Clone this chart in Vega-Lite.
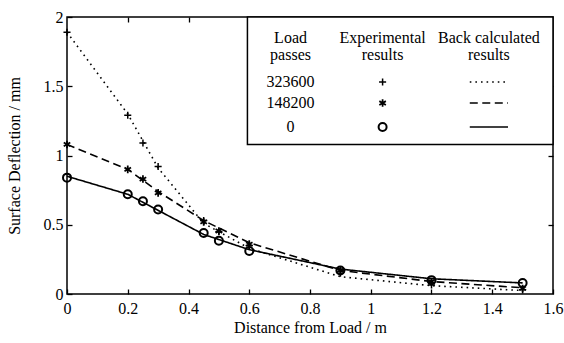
{
  "$schema": "https://vega.github.io/schema/vega-lite/v6.json",
  "width": 486,
  "height": 277,
  "autosize": "none",
  "padding": {"left": 67, "top": 17, "right": 11, "bottom": 49},
  "background": "white",
  "config": {
    "view": {"stroke": "black", "strokeWidth": 1.5},
    "font": "Liberation Serif",
    "axis": {
      "domain": false,
      "grid": false,
      "tickColor": "black",
      "tickWidth": 1.3,
      "tickSize": 5,
      "offset": -5,
      "labelFont": "Liberation Serif",
      "labelFontSize": 16,
      "labelColor": "black",
      "titleFont": "Liberation Serif",
      "titleFontSize": 16,
      "titleFontWeight": "normal",
      "titleColor": "black"
    },
    "text": {"font": "Liberation Serif", "fontSize": 16, "color": "black"}
  },
  "datasets": {
    "calc": [
      {"passes": "323600", "distance": 0, "deflection": 1.89},
      {"passes": "323600", "distance": 0.2, "deflection": 1.3},
      {"passes": "323600", "distance": 0.3, "deflection": 0.91},
      {"passes": "323600", "distance": 0.45, "deflection": 0.51},
      {"passes": "323600", "distance": 0.6, "deflection": 0.33},
      {"passes": "323600", "distance": 0.9, "deflection": 0.125},
      {"passes": "323600", "distance": 1.2, "deflection": 0.06},
      {"passes": "323600", "distance": 1.5, "deflection": 0.025},
      {"passes": "148200", "distance": 0, "deflection": 1.08},
      {"passes": "148200", "distance": 0.2, "deflection": 0.9},
      {"passes": "148200", "distance": 0.3, "deflection": 0.74},
      {"passes": "148200", "distance": 0.45, "deflection": 0.53},
      {"passes": "148200", "distance": 0.6, "deflection": 0.37},
      {"passes": "148200", "distance": 0.9, "deflection": 0.17},
      {"passes": "148200", "distance": 1.2, "deflection": 0.09},
      {"passes": "148200", "distance": 1.5, "deflection": 0.045},
      {"passes": "0", "distance": 0, "deflection": 0.85},
      {"passes": "0", "distance": 0.2, "deflection": 0.72},
      {"passes": "0", "distance": 0.45, "deflection": 0.43},
      {"passes": "0", "distance": 0.6, "deflection": 0.32},
      {"passes": "0", "distance": 0.9, "deflection": 0.18},
      {"passes": "0", "distance": 1.2, "deflection": 0.11},
      {"passes": "0", "distance": 1.5, "deflection": 0.08}
    ],
    "exp": [
      {"passes": "323600", "distance": 0, "deflection": 1.89},
      {"passes": "323600", "distance": 0.2, "deflection": 1.29},
      {"passes": "323600", "distance": 0.25, "deflection": 1.09},
      {"passes": "323600", "distance": 0.3, "deflection": 0.92},
      {"passes": "323600", "distance": 0.45, "deflection": 0.53},
      {"passes": "323600", "distance": 0.5, "deflection": 0.45},
      {"passes": "323600", "distance": 0.6, "deflection": 0.35},
      {"passes": "323600", "distance": 0.9, "deflection": 0.15},
      {"passes": "323600", "distance": 1.2, "deflection": 0.065},
      {"passes": "323600", "distance": 1.5, "deflection": 0.03},
      {"passes": "148200", "distance": 0, "deflection": 1.08},
      {"passes": "148200", "distance": 0.2, "deflection": 0.9},
      {"passes": "148200", "distance": 0.25, "deflection": 0.83},
      {"passes": "148200", "distance": 0.3, "deflection": 0.73},
      {"passes": "148200", "distance": 0.45, "deflection": 0.52},
      {"passes": "148200", "distance": 0.5, "deflection": 0.455},
      {"passes": "148200", "distance": 0.6, "deflection": 0.36},
      {"passes": "148200", "distance": 0.9, "deflection": 0.17},
      {"passes": "148200", "distance": 1.2, "deflection": 0.09},
      {"passes": "148200", "distance": 1.5, "deflection": 0.04},
      {"passes": "0", "distance": 0, "deflection": 0.84},
      {"passes": "0", "distance": 0.2, "deflection": 0.72},
      {"passes": "0", "distance": 0.25, "deflection": 0.67},
      {"passes": "0", "distance": 0.3, "deflection": 0.61},
      {"passes": "0", "distance": 0.45, "deflection": 0.44},
      {"passes": "0", "distance": 0.5, "deflection": 0.385},
      {"passes": "0", "distance": 0.6, "deflection": 0.31},
      {"passes": "0", "distance": 0.9, "deflection": 0.17},
      {"passes": "0", "distance": 1.2, "deflection": 0.1},
      {"passes": "0", "distance": 1.5, "deflection": 0.08}
    ],
    "series": [
      {"passes": "323600"},
      {"passes": "148200"},
      {"passes": "0"}
    ],
    "box": [{"box": "legend"}]
  },
  "layer": [
    {
      "data": {"name": "calc"},
      "mark": {"type": "line", "color": "black", "strokeWidth": 1.6},
      "encoding": {
        "x": {
          "field": "distance", "type": "quantitative",
          "scale": {"domain": [0, 1.6], "nice": false, "zero": false},
          "axis": {"orient": "bottom", "values": [0, 0.2, 0.4, 0.6, 0.8, 1, 1.2, 1.4, 1.6], "format": "~g", "labelPadding": 6, "title": "Distance from Load / m", "titlePadding": 3, "labelFlush": false}
        },
        "y": {
          "field": "deflection", "type": "quantitative",
          "scale": {"domain": [0, 2], "nice": false},
          "axis": {"orient": "left", "values": [0, 0.5, 1, 1.5, 2], "format": "~g", "labelPadding": 4, "title": "Surface Deflection / mm", "titlePadding": 21, "labelFlush": false}
        },
        "detail": {"field": "passes"},
        "strokeDash": {
          "field": "passes", "type": "nominal",
          "scale": {"domain": ["323600", "148200", "0"], "range": [[1.6, 4], [8, 4.5], [1, 0]]},
          "legend": null
        }
      }
    },
    {
      "data": {"name": "exp"},
      "mark": {"type": "point", "filled": false, "color": "black", "opacity": 1},
      "encoding": {
        "x": {
          "field": "distance", "type": "quantitative",
          "axis": {"orient": "top", "values": [0.2, 0.4, 0.6, 0.8, 1, 1.2, 1.4], "labels": false, "title": null}
        },
        "y": {
          "field": "deflection", "type": "quantitative",
          "axis": {"orient": "right", "values": [0.5, 1, 1.5], "labels": false, "title": null}
        },
        "shape": {
          "field": "passes", "type": "nominal",
          "scale": {"domain": ["323600", "148200", "0"], "range": ["M-1,0H1M0,-1V1", "M0,-1V1M-0.866,-0.5L0.866,0.5M-0.866,0.5L0.866,-0.5", "circle"]},
          "legend": null
        },
        "size": {
          "field": "passes", "type": "nominal",
          "scale": {"domain": ["323600", "148200", "0"], "range": [50, 64, 22]},
          "legend": null
        },
        "strokeWidth": {
          "field": "passes", "type": "nominal",
          "scale": {"domain": ["323600", "148200", "0"], "range": [1.5, 2, 1.3]},
          "legend": null
        }
      }
    },
    {
      "data": {"name": "box"},
      "mark": {"type": "rect", "fill": "white", "stroke": "black", "strokeWidth": 1.5},
      "encoding": {
        "x": {"datum": 0.594, "axis": null},
        "x2": {"datum": 1.6},
        "y": {"datum": 2.0, "axis": null},
        "y2": {"datum": 1.079}
      }
    },
    {
      "data": {"name": "box"},
      "mark": {"type": "text", "text": ["Load", "passes"], "align": "center", "baseline": "middle", "lineHeight": 17},
      "encoding": {"x": {"datum": 0.736, "axis": null}, "y": {"datum": 1.848, "axis": null}}
    },
    {
      "data": {"name": "box"},
      "mark": {"type": "text", "text": ["Experimental", "results"], "align": "center", "baseline": "middle", "lineHeight": 17},
      "encoding": {"x": {"datum": 1.039, "axis": null}, "y": {"datum": 1.848, "axis": null}}
    },
    {
      "data": {"name": "box"},
      "mark": {"type": "text", "text": ["Back calculated", "results"], "align": "center", "baseline": "middle", "lineHeight": 17},
      "encoding": {"x": {"datum": 1.389, "axis": null}, "y": {"datum": 1.848, "axis": null}}
    },
    {
      "data": {"name": "series"},
      "transform": [{"filter": "datum.passes == '323600'"}],
      "encoding": {"y": {"datum": 1.531, "axis": null}},
      "layer": [
        {"mark": {"type": "text", "align": "center", "baseline": "middle"}, "encoding": {"x": {"datum": 0.736, "axis": null}, "text": {"field": "passes"}}},
        {"mark": {"type": "point", "filled": false, "color": "black", "opacity": 1}, "encoding": {"x": {"datum": 1.039, "axis": null}, "shape": {"field": "passes", "type": "nominal", "legend": null}, "size": {"field": "passes", "type": "nominal", "legend": null}, "strokeWidth": {"field": "passes", "type": "nominal", "legend": null}}},
        {"mark": {"type": "rule", "color": "black", "strokeWidth": 1.6}, "encoding": {"x": {"datum": 1.326, "axis": null}, "x2": {"datum": 1.452}, "strokeDash": {"field": "passes", "type": "nominal", "legend": null}}}
      ]
    },
    {
      "data": {"name": "series"},
      "transform": [{"filter": "datum.passes == '148200'"}],
      "encoding": {"y": {"datum": 1.379, "axis": null}},
      "layer": [
        {"mark": {"type": "text", "align": "center", "baseline": "middle"}, "encoding": {"x": {"datum": 0.736, "axis": null}, "text": {"field": "passes"}}},
        {"mark": {"type": "point", "filled": false, "color": "black", "opacity": 1}, "encoding": {"x": {"datum": 1.039, "axis": null}, "shape": {"field": "passes", "type": "nominal", "legend": null}, "size": {"field": "passes", "type": "nominal", "legend": null}, "strokeWidth": {"field": "passes", "type": "nominal", "legend": null}}},
        {"mark": {"type": "rule", "color": "black", "strokeWidth": 1.6}, "encoding": {"x": {"datum": 1.326, "axis": null}, "x2": {"datum": 1.452}, "strokeDash": {"field": "passes", "type": "nominal", "legend": null}}}
      ]
    },
    {
      "data": {"name": "series"},
      "transform": [{"filter": "datum.passes == '0'"}],
      "encoding": {"y": {"datum": 1.206, "axis": null}},
      "layer": [
        {"mark": {"type": "text", "align": "center", "baseline": "middle"}, "encoding": {"x": {"datum": 0.736, "axis": null}, "text": {"field": "passes"}}},
        {"mark": {"type": "point", "filled": false, "color": "black", "opacity": 1}, "encoding": {"x": {"datum": 1.039, "axis": null}, "shape": {"field": "passes", "type": "nominal", "legend": null}, "size": {"field": "passes", "type": "nominal", "legend": null}, "strokeWidth": {"field": "passes", "type": "nominal", "legend": null}}},
        {"mark": {"type": "rule", "color": "black", "strokeWidth": 1.6}, "encoding": {"x": {"datum": 1.326, "axis": null}, "x2": {"datum": 1.452}, "strokeDash": {"field": "passes", "type": "nominal", "legend": null}}}
      ]
    }
  ],
  "resolve": {"axis": {"x": "independent", "y": "independent"}}
}
